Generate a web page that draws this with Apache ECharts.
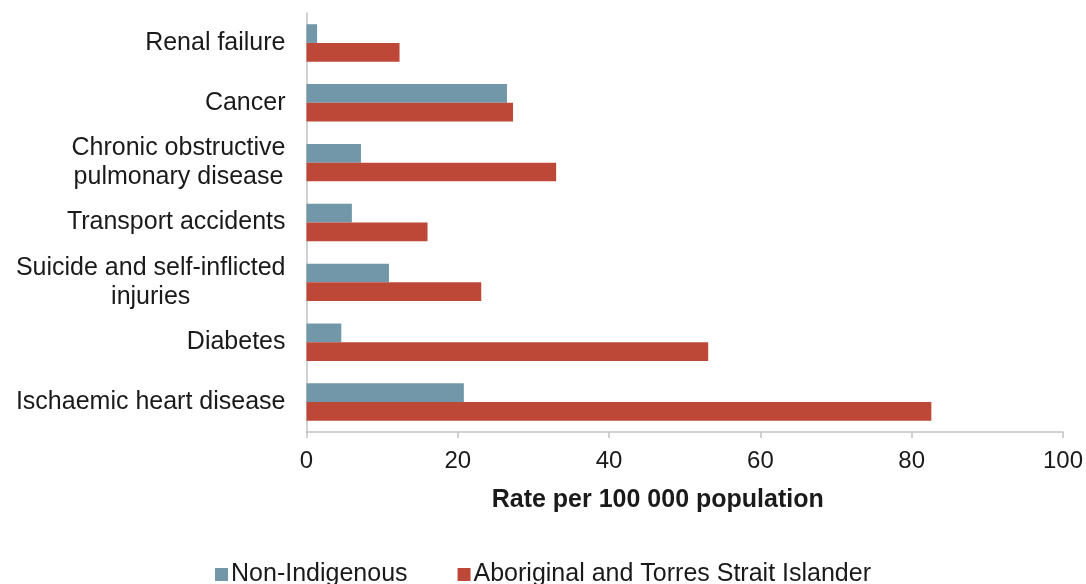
<!DOCTYPE html>
<html>
<head>
<meta charset="utf-8">
<script src="https://cdn.jsdelivr.net/npm/echarts@6/dist/echarts.min.js"></script>
<style>
html,body{margin:0;padding:0;background:#fff;}
#chart{width:1086px;height:584px;}
</style>
</head>
<body>
<div id="chart"></div>
<script>
// categories top to bottom
var categories = [
  'Renal failure',
  'Cancer',
  'Chronic obstructive\npulmonary disease',
  'Transport accidents',
  'Suicide and self-inflicted\ninjuries',
  'Diabetes',
  'Ischaemic heart disease'
];
var nonIndigenous = [1.4, 26.5, 7.2, 6.0, 10.9, 4.6, 20.8];
var aboriginal = [12.3, 27.3, 33.0, 16.0, 23.1, 53.1, 82.6];
var xTicks = [0, 20, 40, 60, 80, 100];
var seriesNames = ['Non-Indigenous', 'Aboriginal and Torres Strait Islander'];

var chart = echarts.init(document.getElementById('chart'), null, {renderer: 'canvas'});
var font = 'Liberation Sans, Arial, Helvetica, sans-serif';
var option = {
  animation: false,
  backgroundColor: '#ffffff',
  textStyle: {fontFamily: font},
  grid: {left: 306.5, right: 23, top: 13, bottom: 152, containLabel: false},
  legend: {
    data: seriesNames,
    top: 557,
    left: 'center',
    icon: 'rect',
    itemWidth: 13,
    itemHeight: 13,
    itemGap: 50,
    textStyle: {fontSize: 25, color: '#1a1a1a', fontFamily: font, padding: [0, 0, 0, -2]}
  },
  xAxis: {
    type: 'value',
    min: xTicks[0],
    max: xTicks[xTicks.length - 1],
    interval: 20,
    name: 'Rate per 100 000 population',
    nameLocation: 'middle',
    nameGap: 56,
    nameTextStyle: {fontSize: 25, fontWeight: 'bold', color: '#1a1a1a', fontFamily: font, padding: [0, 54, 0, 0]},
    axisLine: {show: true, lineStyle: {color: '#c3c3c3', width: 1.5}},
    axisTick: {show: true, length: 6, lineStyle: {color: '#c3c3c3', width: 1.5}},
    axisLabel: {fontSize: 24, color: '#1a1a1a', margin: 17, fontFamily: font},
    splitLine: {show: false}
  },
  yAxis: {
    type: 'category',
    data: categories,
    inverse: true,
    axisLine: {show: true, lineStyle: {color: '#c3c3c3', width: 1.5}},
    axisTick: {show: false},
    axisLabel: {
      fontSize: 25, color: '#1a1a1a', margin: 21, fontFamily: font, lineHeight: 29,
      align: 'right',
      formatter: function (v) {
        return v.split('\n').map(function (l) { return '{c|' + l + '}'; }).join('\n');
      },
      rich: {c: {align: 'center', fontSize: 25, color: '#1a1a1a', fontFamily: font, lineHeight: 29}}
    }
  },
  series: [
    {
      name: seriesNames[0],
      type: 'bar',
      data: nonIndigenous,
      itemStyle: {color: '#7197a8'},
      barGap: '0%',
      barCategoryGap: '37.5%'
    },
    {
      name: seriesNames[1],
      type: 'bar',
      data: aboriginal,
      itemStyle: {color: '#be4838'},
      barGap: '0%',
      barCategoryGap: '37.5%'
    }
  ]
};
chart.setOption(option);
</script>
</body>
</html>
